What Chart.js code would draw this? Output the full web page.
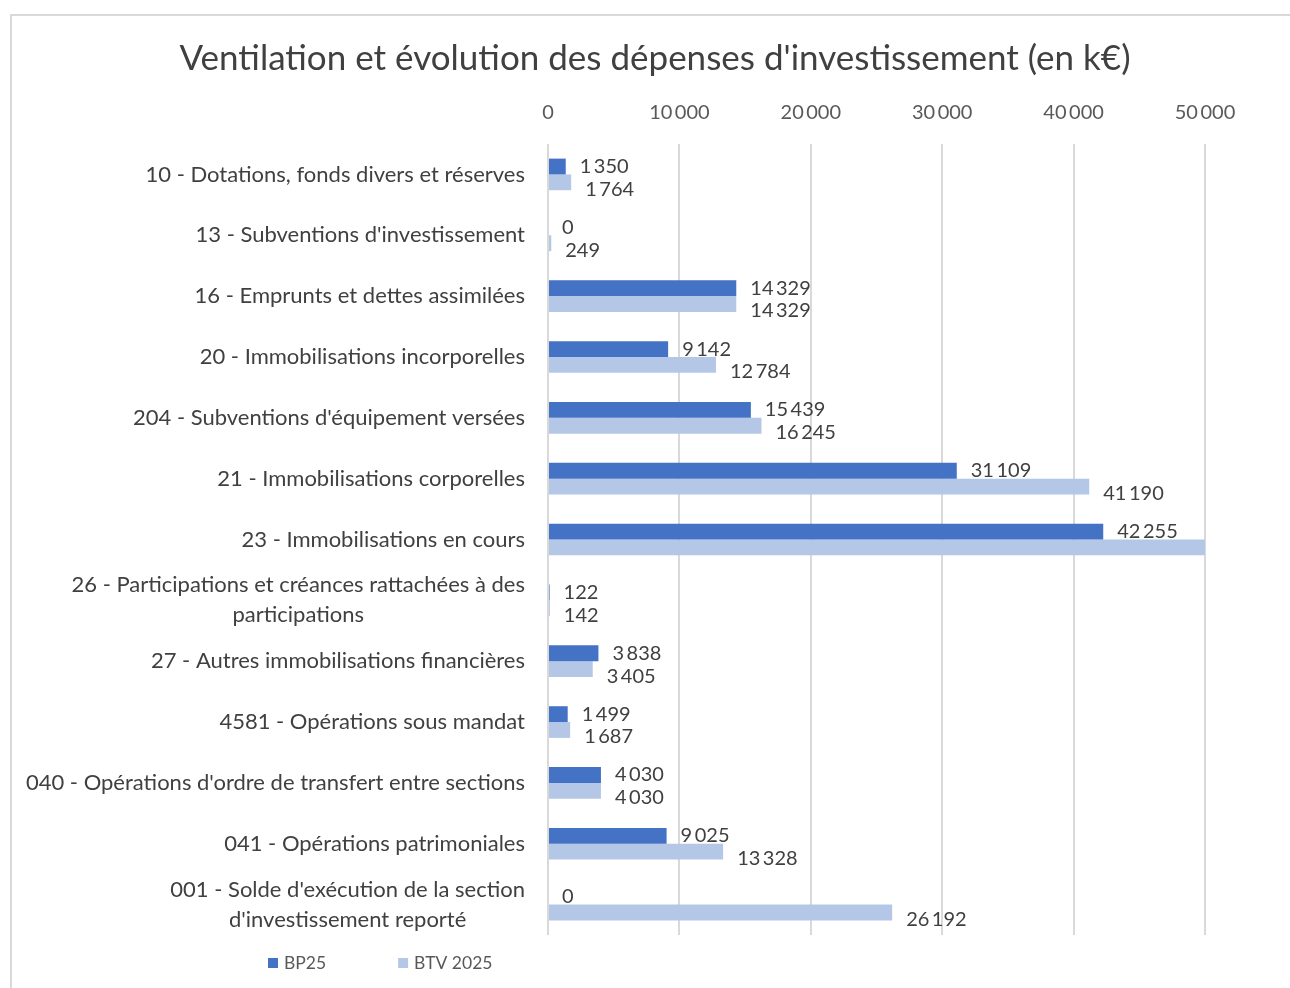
<!DOCTYPE html>
<html lang="fr">
<head>
    <meta charset="UTF-8">
    <title>Ventilation et évolution des dépenses d'investissement</title>
    <script src="https://cdn.jsdelivr.net/npm/chart.js"></script>
    <style>
        html, body {
            margin: 0;
            padding: 0;
            background: #fff;
            width: 1290px;
            height: 988px;
            overflow: hidden;
        }
        .frame {
            position: absolute;
            left: 10px;
            top: 14px;
            width: 1280px;
            height: 974px;
            border-left: 2px solid #d9d9d9;
            border-top: 2px solid #d9d9d9;
            box-sizing: border-box;
        }
        .chart-box {
            position: absolute;
            left: 11px;
            top: 15px;
            width: 1279px;
            height: 973px;
        }
    </style>
</head>
<body>
    <div class="frame"></div>
    <div class="chart-box">
        <canvas id="chart" width="1279" height="973"></canvas>
    </div>

    <script>
        const title = "Ventilation et évolution des dépenses d'investissement (en k€)";
        const categories = [
            "10 - Dotations, fonds divers et réserves",
            "13 - Subventions d'investissement",
            "16 - Emprunts et dettes assimilées",
            "20 - Immobilisations incorporelles",
            "204 - Subventions d'équipement versées",
            "21 - Immobilisations corporelles",
            "23 - Immobilisations en cours",
            ["26 - Participations et créances rattachées à des", "participations"],
            "27 - Autres immobilisations financières",
            "4581 - Opérations sous mandat",
            "040 - Opérations d'ordre de transfert entre sections",
            "041 - Opérations patrimoniales",
            ["001 - Solde d'exécution de la section", "d'investissement reporté"]
        ];
        const bp25 = [1350, 0, 14329, 9142, 15439, 31109, 42255, 122, 3838, 1499, 4030, 9025, 0];
        const btv2025 = [1764, 249, 14329, 12784, 16245, 41190, 50500, 142, 3405, 1687, 4030, 13328, 26192];
        const xTicks = [0, 10000, 20000, 30000, 40000, 50000];

        const FONT = "Lato, 'Open Sans', sans-serif";
        const TEXT = '#404040';

        // thousands separator like the French Excel output
        function fmt(v) {
            return String(v).replace(/\B(?=(\d{3})+(?!\d))/g, '\u2009');
        }

        // title centred on the whole frame, not on the layout box
        const frameTitle = {
            id: 'frameTitle',
            afterDraw(chart) {
                const ctx = chart.ctx;
                ctx.save();
                ctx.font = '35px ' + FONT;
                ctx.fillStyle = TEXT;
                ctx.textAlign = 'center';
                ctx.textBaseline = 'middle';
                ctx.fillText(title, 644, 44);
                ctx.restore();
            }
        };

        // value labels at the end of each bar
        const barLabels = {
            id: 'barLabels',
            afterDatasetsDraw(chart) {
                const ctx = chart.ctx;
                const xMax = chart.scales.x.max;
                ctx.save();
                ctx.font = '20px ' + FONT;
                ctx.fillStyle = TEXT;
                ctx.textAlign = 'left';
                ctx.textBaseline = 'middle';
                chart.data.datasets.forEach((ds, di) => {
                    const meta = chart.getDatasetMeta(di);
                    meta.data.forEach((bar, i) => {
                        const v = ds.data[i];
                        if (v >= xMax) return;
                        const dy = di === 1 ? 7 : 0;
                        ctx.fillText(fmt(v), bar.x + 14, bar.y + dy);
                    });
                });
                ctx.restore();
            }
        };

        // category labels: right aligned block, wrapped lines centred inside it
        const catLabels = {
            id: 'catLabels',
            afterDraw(chart) {
                const ctx = chart.ctx;
                const y = chart.scales.y;
                const right = chart.chartArea.left - 23;
                const lineH = 30;
                ctx.save();
                ctx.font = '22px ' + FONT;
                ctx.fillStyle = TEXT;
                ctx.textBaseline = 'middle';
                ctx.textAlign = 'center';
                categories.forEach((c, i) => {
                    const lines = Array.isArray(c) ? c : [c];
                    const w = Math.max(...lines.map(l => ctx.measureText(l).width));
                    const cy = y.getPixelForValue(i);
                    const y0 = cy - (lines.length - 1) * lineH / 2;
                    lines.forEach((l, k) => {
                        ctx.fillText(l, right - w / 2, y0 + k * lineH);
                    });
                });
                ctx.restore();
            }
        };

        // legend drawn under the labels, as in the original
        const bottomLegend = {
            id: 'bottomLegend',
            afterDraw(chart) {
                const ctx = chart.ctx;
                let x = 257;
                const y = 948;
                ctx.save();
                ctx.font = '17.5px ' + FONT;
                ctx.textBaseline = 'middle';
                ctx.textAlign = 'left';
                chart.data.datasets.forEach(ds => {
                    ctx.fillStyle = ds.backgroundColor;
                    ctx.fillRect(x, y - 5, 10, 10);
                    ctx.fillStyle = '#595959';
                    ctx.fillText(ds.label, x + 16, y);
                    x += 16 + ctx.measureText(ds.label).width + 72;
                });
                ctx.restore();
            }
        };

        const ctx = document.getElementById('chart').getContext('2d');
        new Chart(ctx, {
            type: 'bar',
            data: {
                labels: categories,
                datasets: [
                    {
                        label: 'BP25',
                        data: bp25,
                        backgroundColor: '#4472C4',
                        categoryPercentage: 0.52,
                        barPercentage: 1
                    },
                    {
                        label: 'BTV 2025',
                        data: btv2025,
                        backgroundColor: '#B4C7E7',
                        categoryPercentage: 0.52,
                        barPercentage: 1
                    }
                ]
            },
            options: {
                indexAxis: 'y',
                responsive: false,
                animation: false,
                layout: {
                    padding: { top: 70, right: 85, bottom: 53, left: 0 }
                },
                scales: {
                    x: {
                        position: 'top',
                        min: 0,
                        max: 50000,
                        afterBuildTicks(scale) {
                            scale.ticks = xTicks.map(v => ({ value: v }));
                        },
                        afterFit(scale) {
                            scale.height = 59;
                        },
                        grid: {
                            color: '#d9d9d9',
                            lineWidth: 2,
                            drawTicks: false
                        },
                        border: { display: false },
                        ticks: {
                            color: '#595959',
                            font: { family: FONT, size: 20 },
                            padding: 19,
                            callback: v => fmt(v)
                        }
                    },
                    y: {
                        afterFit(scale) {
                            scale.width = 537;
                        },
                        grid: { display: false },
                        border: { display: false },
                        ticks: { display: false }
                    }
                },
                plugins: {
                    title: { display: false },
                    legend: { display: false },
                    tooltip: { enabled: false }
                }
            },
            plugins: [barLabels, catLabels, bottomLegend, frameTitle]
        });
    </script>
</body>
</html>
